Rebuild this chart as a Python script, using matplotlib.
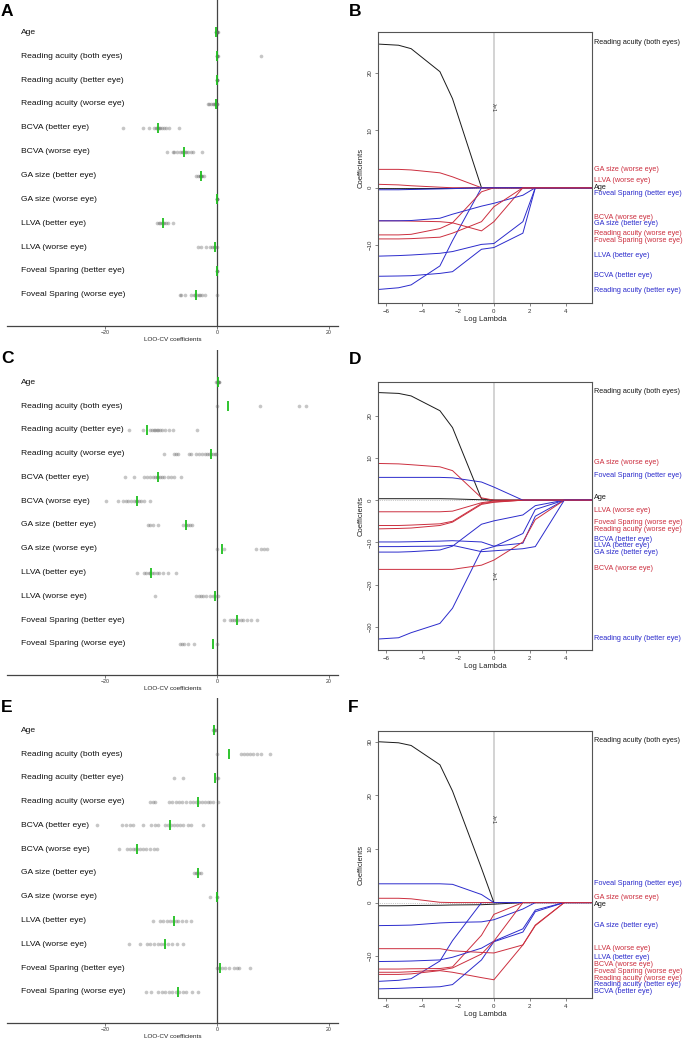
import numpy as np
import matplotlib
matplotlib.use("Agg")
import matplotlib.pyplot as plt
import matplotlib.transforms as mtransforms

plt.rcParams['font.family'] = ['Liberation Sans', 'DejaVu Sans']

# Les variables du modele
variables = ["Age", "Reading acuity (both eyes)", "Reading acuity (better eye)",
             "Reading acuity (worse eye)", "BCVA (better eye)", "BCVA (worse eye)",
             "GA size (better eye)", "GA size (worse eye)", "LLVA (better eye)",
             "LLVA (worse eye)", "Foveal Sparing (better eye)", "Foveal Sparing (worse eye)"]
var_colours = ["#1a1a1a", "#1a1a1a", "#2b2bcc", "#cc2f3f", "#2b2bcc", "#cc2f3f",
               "#2b2bcc", "#cc2f3f", "#2b2bcc", "#cc2f3f", "#2b2bcc", "#cc2f3f"]

# Coefficients LOO-CV (points gris) et modele complet (trait vert)
loo_a = [[-0.2, -0.1, -0.1, 0, 0, 0.05, 0.1],
         [0, 0, 0.05, 0.1, 7.9],
         [0, 0, 0, 0.05],
         [-1.7, -1.4, -1.1, -0.8, -0.5, -0.3, -0.1, 0, 0],
         [-16.8, -13.3, -12.2, -11.2, -10.9, -10.7, -10.5, -10.3, -10.1, -9.8, -9.5, -9.1, -8.6, -6.8],
         [-8.9, -7.9, -7.6, -7.2, -6.6, -6.3, -6.0, -5.8, -5.5, -5.1, -4.7, -4.3, -2.7],
         [-3.7, -3.4, -3.1, -3.0, -2.9, -2.8, -2.6, -2.3],
         [0, 0, 0, 0.05],
         [-10.7, -10.4, -10.1, -9.8, -9.6, -9.4, -9.1, -8.7, -7.8],
         [-3.4, -2.8, -1.9, -1.3, -0.9, -0.6, -0.4, 0],
         [0, 0, 0],
         [-6.7, -6.4, -5.8, -4.6, -4.2, -3.9, -3.6, -3.3, -3.0, -2.6, -2.2, 0]]
full_a = [-0.1, 0.05, 0, -0.1, -10.5, -5.95, -2.9, 0, -9.6, -0.3, 0, -3.75]

loo_c = [[-0.1, 0, 0.1, 0.2, 0.3, 0.4],
         [0, 7.7, 14.6, 15.8],
         [-15.7, -13.3, -12.0, -11.6, -11.3, -11.0, -10.8, -10.5, -10.2, -9.8, -9.3, -8.5, -7.9, -3.6],
         [-9.5, -7.7, -7.3, -6.9, -5.0, -4.6, -3.7, -3.2, -2.7, -2.2, -1.8, -1.4, -1.0, -0.7, -0.4, -0.1],
         [-16.4, -14.8, -13.0, -12.5, -12.0, -11.5, -11.1, -10.8, -10.5, -10.2, -9.8, -9.4, -8.8, -8.3, -7.6, -6.5],
         [-19.9, -17.6, -16.8, -16.3, -15.9, -15.3, -14.9, -14.5, -14.2, -13.9, -13.5, -13.0, -12.0],
         [-12.3, -11.9, -11.4, -10.5, -6.1, -5.6, -5.2, -4.8, -4.4],
         [0, 1.25, 6.9, 7.9, 8.4, 8.9],
         [-14.2, -13.0, -12.6, -12.2, -11.9, -11.6, -11.3, -10.8, -10.3, -9.6, -8.8, -7.3],
         [-11.0, -3.7, -3.3, -2.9, -2.5, -2.0, -1.3, -0.7, -0.3, 0.1],
         [1.25, 2.3, 2.7, 3.1, 3.4, 3.8, 4.2, 4.7, 5.3, 6.1, 7.2],
         [-6.7, -6.3, -5.9, -5.2, -4.2, 0]]
full_c = [0.1, 2.0, -12.5, -1.0, -10.6, -14.2, -5.5, 0.8, -11.7, -0.4, 3.6, -0.65]

loo_e = [[-0.7, -0.5, -0.4, -0.3],
         [0, 4.2, 4.8, 5.4, 5.9, 6.5, 7.2, 7.9, 9.4],
         [-7.6, -6.0, 0, 0.1],
         [-12.0, -11.5, -11.1, -8.6, -8.0, -7.4, -6.8, -6.2, -5.5, -4.9, -4.3, -3.8, -3.2, -2.7, -2.2, -1.7, -1.2, -0.7, 0.2],
         [-21.4, -16.9, -16.2, -15.5, -15.0, -13.2, -11.7, -11.0, -10.5, -9.3, -8.8, -8.2, -7.7, -7.2, -6.6, -6.1, -5.2, -4.6, -2.5],
         [-17.5, -16.0, -15.5, -15.0, -14.6, -14.2, -13.7, -13.2, -12.6, -11.9, -11.2, -10.8],
         [-4.2, -3.8, -3.5, -3.2, -2.8],
         [-1.3, 0, 0],
         [-11.4, -10.2, -9.6, -9.0, -8.4, -7.9, -7.4, -6.9, -6.3, -5.5, -4.6],
         [-15.7, -13.8, -12.5, -11.9, -11.2, -10.6, -10.0, -9.4, -8.8, -8.1, -7.2, -6.1],
         [0, 0.4, 0.9, 1.4, 2.2, 3.0, 3.6, 4.0, 5.8],
         [-12.6, -11.7, -10.5, -9.8, -9.2, -8.6, -8.0, -7.4, -6.8, -6.1, -5.5, -4.5, -3.4]]
full_e = [-0.5, 2.2, -0.35, -3.45, -8.45, -14.2, -3.45, 0, -7.6, -9.35, 0.5, -7.0]

# Chemins du lasso : log(lambda) et coefficients
log_lambda = [-6.44, -5.3, -4.6, -3.0, -2.3, -0.69, 0, 1.61, 2.3, 3.91, 5.45]

path_b = [[-0.15, -0.15, -0.15, -0.12, -0.1, 0, 0, 0, 0, 0, 0],
          [25.0, 24.8, 24.2, 20.2, 15.5, 0, 0, 0, 0, 0, 0],
          [-17.7, -17.4, -16.9, -13.6, -9.2, 0, 0, 0, 0, 0, 0],
          [-8.2, -8.2, -8.1, -7.1, -6.1, -0.7, 0, 0, 0, 0, 0],
          [-15.4, -15.35, -15.3, -14.9, -14.6, -10.7, -10.4, -7.9, 0, 0, 0],
          [-5.75, -5.75, -5.8, -5.9, -6.1, -7.5, -5.9, 0, 0, 0, 0],
          [-5.75, -5.75, -5.7, -5.3, -4.6, -3.2, -2.7, -1.3, 0, 0, 0],
          [3.2, 3.2, 3.1, 2.6, 1.9, 0, 0, 0, 0, 0, 0],
          [-11.9, -11.8, -11.7, -11.4, -11.1, -9.85, -9.7, -5.9, 0, 0, 0],
          [0.6, 0.5, 0.35, 0.1, 0, 0, 0, 0, 0, 0, 0],
          [-0.35, -0.35, -0.3, -0.2, -0.15, 0, 0, 0, 0, 0, 0],
          [-8.9, -8.9, -8.85, -8.6, -7.9, -5.9, -3.3, 0, 0, 0, 0]]
label_y_b = [0, 25.2, -17.8, -7.9, -15.3, -5.15, -6.3, 3.2, -11.85, 1.2, -1.0, -9.1]

path_d = [[0.35, 0.35, 0.35, 0.35, 0.3, 0.1, 0, 0, 0, 0, 0],
          [25.5, 25.3, 24.7, 21.2, 17.2, 0.3, 0, 0, 0, 0, 0],
          [-32.9, -32.6, -31.4, -29.2, -25.6, -11.8, -11.0, -7.9, -2.2, 0, 0],
          [-6.8, -6.7, -6.6, -6.0, -5.2, -1.0, -0.5, 0, 0, 0, 0],
          [-9.9, -9.9, -9.85, -9.7, -9.6, -9.9, -10.9, -10.2, -3.8, 0, 0],
          [-16.4, -16.4, -16.4, -16.4, -16.4, -15.4, -14.2, -9.9, -4.6, 0, 0],
          [-12.3, -12.3, -12.2, -11.8, -10.9, -5.7, -4.9, -3.5, -1.3, 0, 0],
          [8.7, 8.6, 8.4, 7.9, 7.0, 0.55, 0, 0, 0, 0, 0],
          [-11.0, -11.0, -10.95, -10.9, -10.7, -12.2, -12.0, -11.5, -11.0, 0, 0],
          [-2.75, -2.75, -2.75, -2.75, -2.6, -0.6, -0.2, 0, 0, 0, 0],
          [5.4, 5.4, 5.4, 5.4, 5.3, 4.3, 3.1, 0, 0, 0, 0],
          [-6.0, -6.0, -5.9, -5.6, -5.0, -0.8, -0.4, 0, 0, 0, 0]]
label_y_d = [0.55, 25.8, -32.8, -6.85, -9.4, -16.1, -12.4, 8.9, -10.8, -2.5, 5.75, -5.3]

path_f = [[-0.6, -0.6, -0.55, -0.5, -0.45, -0.4, -0.3, 0, 0, 0, 0],
          [30.0, 29.8, 29.3, 25.7, 20.8, 6.4, 0, 0, 0, 0, 0],
          [-14.7, -14.5, -14.2, -10.9, -7.1, 0, 0, 0, 0, 0, 0],
          [-13.4, -13.4, -13.3, -12.7, -13.0, -14.0, -14.4, -7.9, -4.3, 0, 0],
          [-16.1, -16.0, -15.9, -15.7, -15.3, -10.7, -7.3, -5.5, -1.7, 0, 0],
          [-12.4, -12.4, -12.35, -12.3, -12.0, -6.1, -2.2, 0, 0, 0, 0],
          [-4.3, -4.25, -4.2, -3.8, -3.7, -3.6, -3.2, -1.2, 0, 0, 0],
          [0.8, 0.8, 0.7, 0.05, 0, 0, 0, 0, 0, 0, 0],
          [-11.0, -10.95, -10.9, -10.7, -10.2, -8.5, -7.2, -4.9, -1.4, 0, 0],
          [-8.6, -8.6, -8.6, -8.6, -9.0, -9.3, -9.4, -7.9, -4.2, 0, 0],
          [3.5, 3.5, 3.5, 3.5, 3.4, 1.5, 0, 0, 0, 0, 0],
          [-13.0, -13.0, -12.9, -12.6, -12.2, -9.6, -7.2, 0, 0, 0, 0]]
label_y_f = [-0.43, 30.3, -15.3, -14.1, -16.5, -11.6, -4.35, 1.0, -10.2, -8.5, 3.6, -12.9]


def dot_panel(rect, loo, full):
    ax = fig.add_axes(rect)
    for i, vals in enumerate(loo):
        ax.scatter(vals, [i] * len(vals), s=7, color="#5e5e5e", alpha=0.35, lw=0, zorder=2)
    ax.axvline(0, color="#444444", lw=0.9, zorder=1)
    ax.plot(full, range(len(full)), ls="none", marker="|", ms=7, mew=1.3,
            color="#1fbf1f", zorder=3)
    for i, name in enumerate(variables):
        ax.text(-35, i, name, va="center", ha="left", fontsize=6.1, color="#111111")
    ax.set_xlim(-37.5, 21.6)
    ax.set_ylim(12.31, -1.36)
    for s in ["left", "top", "right"]:
        ax.spines[s].set_visible(False)
    ax.spines["bottom"].set_color("#444444")
    ax.spines["bottom"].set_linewidth(0.9)
    ax.set_yticks([])
    ax.set_xticks([-20, 0, 20])
    ax.tick_params(axis="x", labelsize=3.8, length=2, width=0.5, pad=1,
                   colors="#444444", labelcolor="#333333")
    ax.set_xlabel("LOO-CV coefficients", fontsize=4.6, labelpad=1.5, color="#222222")
    return ax


def path_panel(rect, paths, label_y, ylim, yticks, lam_y):
    ax = fig.add_axes(rect)
    ax.axvline(0, color="#c8c8c8", lw=1.1, zorder=0)
    ax.axhline(0, color="#999999", lw=0.5, ls=":", zorder=0)
    for vals, col in zip(paths, var_colours):
        ax.plot(log_lambda, vals, color=col, lw=0.7)
    ax.text(0, lam_y, "λ=1", rotation=270, fontsize=4, ha="center", va="center",
            color="#333333")
    trans = mtransforms.blended_transform_factory(ax.transAxes, ax.transData)
    for name, y, col in zip(variables, label_y, var_colours):
        ax.text(1.01, y, name, transform=trans, color=col, fontsize=5.25,
                va="center", ha="left", clip_on=False)
    ax.set_xlim(-6.44, 5.45)
    ax.set_ylim(*ylim)
    ax.set_xticks([-6, -4, -2, 0, 2, 4])
    ax.set_yticks(yticks)
    for s in ax.spines.values():
        s.set_color("#555555")
        s.set_linewidth(0.8)
    ax.tick_params(labelsize=4.4, length=2.5, width=0.5, pad=1.5, colors="#555555",
                   labelcolor="#333333")
    for lab in ax.get_yticklabels():
        lab.set_rotation(90)
        lab.set_va("center")
    ax.set_xlabel("Log Lambda", fontsize=5.5, labelpad=2, color="#222222")
    ax.set_ylabel("Coefficients", fontsize=5.5, labelpad=2, color="#222222")
    return ax


fig = plt.figure(figsize=(6.83, 10.39), dpi=100)
H = 1039.0
W = 683.0

dot_panel([7 / W, 1 - 326 / H, 331 / W, 326 / H], loo_a, full_a)
dot_panel([7 / W, 1 - 675 / H, 331 / W, 325 / H], loo_c, full_c)
dot_panel([7 / W, 1 - 1023 / H, 331 / W, 325 / H], loo_e, full_e)

path_panel([378 / W, 1 - 303 / H, 214 / W, 271 / H], path_b, label_y_b,
           (-20.05, 27.1), [-10, 0, 10, 20], 13.9)
path_panel([378 / W, 1 - 650 / H, 214 / W, 268 / H], path_d, label_y_d,
           (-35.5, 28.0), [-30, -20, -10, 0, 10, 20], -18.1)
path_panel([378 / W, 1 - 998 / H, 214 / W, 267 / H], path_f, label_y_f,
           (-17.8, 32.0), [-10, 0, 10, 20, 30], 15.5)

# Les lettres des panneaux
for letter, x, y in [("A", 1, 12), ("B", 349, 12), ("C", 1, 358),
                     ("D", 349, 359), ("E", 1, 707), ("F", 348, 708)]:
    fig.text(x / W, 1 - y / H, letter, fontsize=12.5, weight="bold", va="center", ha="left")

fig.savefig("out.png", dpi=100)
